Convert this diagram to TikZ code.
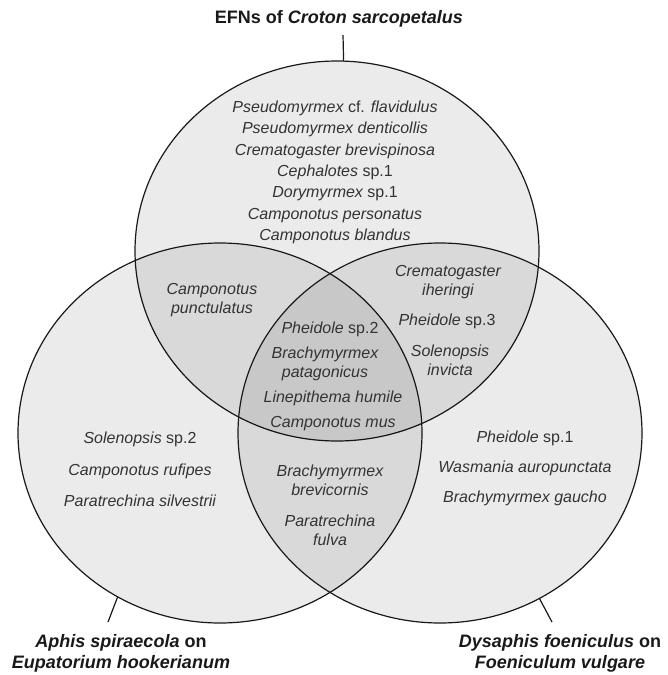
\documentclass[tikz,border=0pt]{standalone}
\usepackage{fontspec}
\setmainfont{Liberation Sans}
\usetikzlibrary{shapes.geometric}
\begin{document}
\begin{tikzpicture}[x=1pt,y=-1pt,
  setbox/.style={ellipse,draw=black!90,line width=1.2pt,fill=black,fill opacity=0.08,draw opacity=1,
    minimum width=404pt,minimum height=380pt,inner sep=0pt,outer sep=0pt},
  spname/.style={font=\fontsize{16}{19}\selectfont\itshape,text=black!80,align=center,inner sep=0pt,anchor=base},
  grouplabel/.style={font=\fontsize{18}{20.5}\selectfont\bfseries,text=black!90,align=center,inner sep=0pt,anchor=base},
  leader/.style={draw=black!90,line width=1.2pt}]
\useasboundingbox (0,0) rectangle (667,675);
% sets
\node[setbox] (top) at (337,251) {};
\node[setbox] (left) at (220,433) {};
\node[setbox] (right) at (440,433) {};
% group labels (base = baseline of last line)
\node[grouplabel] (ttop) at (339,23) {EFNs of \textit{Croton sarcopetalus}};
\node[grouplabel] (tleft) at (121,668) {\textit{Aphis spiraecola} on\\\textit{Eupatorium hookerianum}};
\node[grouplabel] (tright) at (560,668) {\textit{Dysaphis foeniculus} on\\\textit{Foeniculum vulgare}};
\coordinate (ctop) at (343,35);
\coordinate (cleft) at (108,622);
\coordinate (cright) at (552,622);
\draw[leader] (ctop) -- (top.88.2);
\draw[leader] (cleft) -- (left.238.8);
\draw[leader] (cright) -- (right.301.2);
% top only
\node[spname] (a1) at (335,112) {Pseudomyrmex \upshape cf. \itshape flavidulus};
\node[spname] (a2) at (335,133) {Pseudomyrmex denticollis};
\node[spname] (a3) at (335,155) {Crematogaster brevispinosa};
\node[spname] (a4) at (335,176) {Cephalotes \upshape sp.1};
\node[spname] (a5) at (335,197) {Dorymyrmex \upshape sp.1};
\node[spname] (a6) at (335,219) {Camponotus personatus};
\node[spname] (a7) at (335,240) {Camponotus blandus};
% top & left
\node[spname] (b1) at (212,313) {Camponotus\\punctulatus};
% top & right
\node[spname] (c1) at (448,295) {Crematogaster\\iheringi};
\node[spname] (c2) at (447,325) {Pheidole \upshape sp.3};
\node[spname] (c3) at (450,375) {Solenopsis\\invicta};
% all three
\node[spname] (d1) at (330,333) {Pheidole \upshape sp.2};
\node[spname] (d2) at (325,377) {Brachymyrmex\\patagonicus};
\node[spname] (d3) at (333,402) {Linepithema humile};
\node[spname] (d4) at (333,427) {Camponotus mus};
% left & right
\node[spname] (e1) at (330,495) {Brachymyrmex\\brevicornis};
\node[spname] (e2) at (330,545) {Paratrechina\\fulva};
% left only
\node[spname] (f1) at (140,443) {Solenopsis \upshape sp.2};
\node[spname] (f2) at (140,475) {Camponotus rufipes};
\node[spname] (f3) at (140,506) {Paratrechina silvestrii};
% right only
\node[spname] (g1) at (525,442) {Pheidole \upshape sp.1};
\node[spname] (g2) at (525,472) {Wasmania auropunctata};
\node[spname] (g3) at (525,502) {Brachymyrmex gaucho};
\end{tikzpicture}
\end{document}
